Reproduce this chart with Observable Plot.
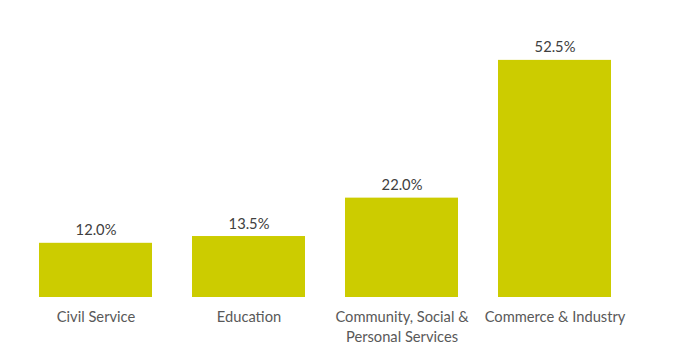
<!DOCTYPE html>
<html>
<head>
<meta charset="utf-8">
<script src="https://cdn.jsdelivr.net/npm/d3@7"></script>
<script src="https://cdn.jsdelivr.net/npm/@observablehq/plot@0.6"></script>
<style>
  html, body { margin: 0; padding: 0; background: #fff; }
  #chart svg { display: block; }
</style>
</head>
<body>
<div id="chart"></div>
<script>
const categories = ["Civil Service", "Education", "Community, Social & Personal Services", "Commerce & Industry"];
const tickLabels = ["Civil Service", "Education", "Community, Social &\nPersonal Services", "Commerce & Industry"];
const values = [12.0, 13.5, 22.0, 52.5];

const data = categories.map((c, i) => ({category: c, value: values[i], label: tickLabels[i]}));
const labelOf = new Map(data.map(d => [d.category, d.label]));

const chart = Plot.plot({
  width: 681,
  height: 363,
  marginLeft: 0,
  marginRight: 32,
  marginTop: 26,
  marginBottom: 66,
  style: {fontFamily: "Lato, 'Open Sans', sans-serif", background: "#fff"},
  x: {domain: categories, paddingInner: 0.263, paddingOuter: 0.248},
  y: {domain: [0, 60], axis: null},
  marks: [
    Plot.barY(data, {x: "category", y: "value", fill: "#CCCC00"}),
    Plot.text(data, {
      x: "category", y: "value",
      text: d => d.value.toFixed(1) + "%",
      lineAnchor: "bottom", dy: -8,
      fontSize: 14.7, fill: "#404040"
    }),
    Plot.axisX({
      tickSize: 0, tickPadding: 10,
      tickFormat: c => labelOf.get(c),
      fontSize: 14.7, lineHeight: 1.36,
      color: "#595959", label: null
    })
  ]
});
document.getElementById("chart").append(chart);
</script>
</body>
</html>
